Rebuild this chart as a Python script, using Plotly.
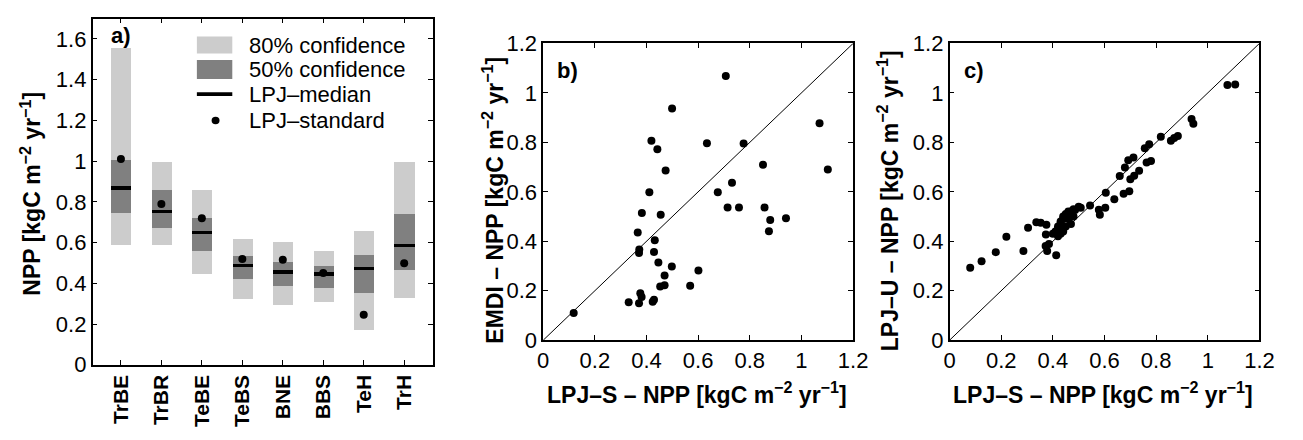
import plotly.graph_objects as go

# ---------------- data ----------------
categories = ["TrBE", "TrBR", "TeBE", "TeBS", "BNE", "BBS", "TeH", "TrH"]
ci80_low = [0.590, 0.590, 0.447, 0.326, 0.294, 0.311, 0.173, 0.331]
ci80_high = [1.558, 1.000, 0.858, 0.622, 0.603, 0.561, 0.657, 0.996]
ci50_low = [0.748, 0.673, 0.563, 0.422, 0.391, 0.380, 0.352, 0.468]
ci50_high = [1.008, 0.858, 0.724, 0.538, 0.506, 0.486, 0.543, 0.742]
lpj_median = [0.869, 0.755, 0.651, 0.489, 0.456, 0.447, 0.475, 0.587]
lpj_standard = [1.011, 0.789, 0.720, 0.519, 0.516, 0.450, 0.246, 0.498]

# panel b: LPJ-S vs EMDI
lpj_s_b = [0.118, 0.499, 0.419, 0.442, 0.634, 0.474, 0.411, 0.676, 0.382, 0.455,
           0.366, 0.432, 0.372, 0.371, 0.429, 0.446, 0.498, 0.601, 0.470, 0.453,
           0.470, 0.569, 0.376, 0.381, 0.331, 0.371, 0.424, 0.429, 0.707, 1.070,
           0.776, 0.851, 1.102, 0.731, 0.714, 0.758, 0.857, 0.879, 0.940, 0.874]
emdi_b = [0.110, 0.937, 0.806, 0.772, 0.796, 0.686, 0.598, 0.598, 0.514, 0.507,
          0.436, 0.404, 0.367, 0.353, 0.357, 0.314, 0.298, 0.282, 0.262, 0.217,
          0.222, 0.220, 0.190, 0.175, 0.154, 0.150, 0.156, 0.164, 1.068, 0.877,
          0.795, 0.709, 0.690, 0.637, 0.537, 0.537, 0.537, 0.486, 0.493, 0.441]

# panel c: LPJ-S vs LPJ-U
lpj_s_c = [0.080, 0.124, 0.179, 0.220, 0.286, 0.304, 0.336, 0.353, 0.375, 0.373,
           0.372, 0.385, 0.378, 0.413, 0.400, 0.410, 0.420, 0.420, 0.430, 0.430,
           0.440, 0.440, 0.450, 0.450, 0.460, 0.460, 0.470, 0.480, 0.470, 0.450,
           0.440, 0.430, 0.420, 0.480, 0.500, 0.544, 0.578, 0.582, 0.603, 1.076,
           1.106, 0.937, 0.944, 0.818, 0.857, 0.870, 0.884, 0.756, 0.773, 0.692,
           0.712, 0.679, 0.763, 0.780, 0.659, 0.700, 0.715, 0.734, 0.605, 0.674,
           0.696, 0.638, 0.508, 0.486]
lpj_u_c = [0.293, 0.319, 0.356, 0.418, 0.361, 0.455, 0.477, 0.475, 0.467, 0.427,
           0.381, 0.389, 0.361, 0.344, 0.430, 0.440, 0.450, 0.460, 0.470, 0.480,
           0.490, 0.500, 0.500, 0.510, 0.520, 0.490, 0.520, 0.530, 0.470, 0.460,
           0.440, 0.430, 0.420, 0.500, 0.540, 0.545, 0.528, 0.507, 0.536, 1.032,
           1.034, 0.894, 0.875, 0.823, 0.806, 0.818, 0.826, 0.776, 0.792, 0.728,
           0.739, 0.698, 0.719, 0.725, 0.664, 0.651, 0.665, 0.685, 0.596, 0.592,
           0.602, 0.570, 0.536, 0.526]

a_ticks = [0, 0.2, 0.4, 0.6, 0.8, 1.0, 1.2, 1.4, 1.6]
a_ticklabels = ["0", "0.2", "0.4", "0.6", "0.8", "1", "1.2", "1.4", "1.6"]
bc_ticks = [0, 0.2, 0.4, 0.6, 0.8, 1.0, 1.2]
bc_ticklabels = ["0", "0.2", "0.4", "0.6", "0.8", "1", "1.2"]
diag = [0, 1.2]

# ---------------- styling ----------------
W, H = 1303, 440
FONT = "Liberation Sans, Arial, Helvetica, sans-serif"
FS = 22
FS_TITLE = 23
LIGHT = "#cccccc"
DARK = "#808080"
UNIT = "[kgC m<sup>\u22122</sup> yr<sup>\u22121</sup>]"


def px(x):
    return x / W


def py(y):
    return 1 - y / H


xpos = list(range(1, len(categories) + 1))
fig = go.Figure()

# panel a
fig.add_trace(go.Bar(x=xpos, y=[h - l for h, l in zip(ci80_high, ci80_low)], base=ci80_low,
                     width=0.5, marker=dict(color=LIGHT, line=dict(width=0)),
                     xaxis="x", yaxis="y", showlegend=False, hoverinfo="skip"))
fig.add_trace(go.Bar(x=xpos, y=[h - l for h, l in zip(ci50_high, ci50_low)], base=ci50_low,
                     width=0.5, marker=dict(color=DARK, line=dict(width=0)),
                     xaxis="x", yaxis="y", showlegend=False, hoverinfo="skip"))
MED_T = 0.018
fig.add_trace(go.Bar(x=xpos, y=[MED_T] * len(lpj_median), base=[m - MED_T / 2 for m in lpj_median],
                     width=0.5, marker=dict(color="black", line=dict(width=0)),
                     xaxis="x", yaxis="y", showlegend=False, hoverinfo="skip"))
fig.add_trace(go.Scatter(x=xpos, y=lpj_standard, mode="markers",
                         marker=dict(color="black", size=8),
                         xaxis="x", yaxis="y", showlegend=False))

# panel b
fig.add_trace(go.Scatter(x=diag, y=diag, mode="lines", line=dict(color="black", width=1),
                         xaxis="x2", yaxis="y2", showlegend=False))
fig.add_trace(go.Scatter(x=lpj_s_b, y=emdi_b, mode="markers",
                         marker=dict(color="black", size=8),
                         xaxis="x2", yaxis="y2", showlegend=False))
# panel c
fig.add_trace(go.Scatter(x=diag, y=diag, mode="lines", line=dict(color="black", width=1),
                         xaxis="x3", yaxis="y3", showlegend=False))
fig.add_trace(go.Scatter(x=lpj_s_c, y=lpj_u_c, mode="markers",
                         marker=dict(color="black", size=8),
                         xaxis="x3", yaxis="y3", showlegend=False))

axis_common = dict(showline=True, linecolor="black", linewidth=1.5, mirror="ticks",
                   ticks="inside", ticklen=5, tickcolor="black", tickwidth=1,
                   showgrid=False, zeroline=False,
                   tickfont=dict(family=FONT, size=FS, color="black"))
axis_a_x = dict(axis_common)
axis_a_x["tickfont"] = dict(family=FONT, size=21, color="black")

fig.update_layout(
    width=W, height=H,
    margin=dict(l=0, r=0, t=0, b=0),
    paper_bgcolor="white", plot_bgcolor="white",
    barmode="overlay", bargap=0,
    font=dict(family=FONT, size=FS, color="black"),
    xaxis=dict(domain=[px(88), px(433.5)], range=[0.3, 8.7], tickvals=xpos,
               ticktext=["<b>%s</b>" % c for c in categories], tickangle=-90,
               anchor="y", **axis_a_x),
    yaxis=dict(domain=[py(374), py(7)], range=[0, 1.7], tickvals=a_ticks,
               ticktext=a_ticklabels, anchor="x", **axis_common),
    xaxis2=dict(domain=[px(546), px(861)], range=[0, 1.2], tickvals=bc_ticks,
                ticktext=bc_ticklabels, anchor="y2", **axis_common),
    yaxis2=dict(domain=[py(348), py(33.3)], range=[0, 1.2], tickvals=bc_ticks,
                ticktext=bc_ticklabels, anchor="x2", **axis_common),
    xaxis3=dict(domain=[px(959), px(1274)], range=[0, 1.2], tickvals=bc_ticks,
                ticktext=bc_ticklabels, anchor="y3", **axis_common),
    yaxis3=dict(domain=[py(348), py(33.3)], range=[0, 1.2], tickvals=bc_ticks,
                ticktext=bc_ticklabels, anchor="x3", **axis_common),
)

ann = []
shapes = []


def text(x, y, s, size=FS, bold=False, angle=0, xanchor="center", yanchor="middle"):
    ann.append(dict(x=px(x), y=py(y), xref="paper", yref="paper", text=("<b>%s</b>" % s) if bold else s,
                    showarrow=False, textangle=angle, xanchor=xanchor, yanchor=yanchor,
                    font=dict(family=FONT, size=size, color="black")))


# axis titles
text(25, 193, "NPP " + UNIT, size=FS_TITLE, bold=True, angle=-90)
text(495, 200, "EMDI \u2013 NPP " + UNIT, size=FS_TITLE, bold=True, angle=-90)
text(896, 200, "LPJ\u2013U \u2013 NPP " + UNIT, size=FS_TITLE, bold=True, angle=-90)
text(702, 404, "LPJ\u2013S \u2013 NPP " + UNIT, size=FS_TITLE, bold=True)
text(1115, 404, "LPJ\u2013S \u2013 NPP " + UNIT, size=FS_TITLE, bold=True)

# panel labels
text(105, 25, "a)", bold=True, xanchor="left")
text(558, 62, "b)", bold=True, xanchor="left")
text(972, 62, "c)", bold=True, xanchor="left")

# legend for panel a
shapes.append(dict(type="rect", xref="paper", yref="paper", x0=px(194), x1=px(230), y0=py(44), y1=py(26),
                   fillcolor=LIGHT, line=dict(width=0)))
shapes.append(dict(type="rect", xref="paper", yref="paper", x0=px(194), x1=px(230), y0=py(71), y1=py(51),
                   fillcolor=DARK, line=dict(width=0)))
shapes.append(dict(type="rect", xref="paper", yref="paper", x0=px(194), x1=px(230), y0=py(89), y1=py(85),
                   fillcolor="black", line=dict(width=0)))
shapes.append(dict(type="circle", xref="paper", yref="paper", x0=px(209), x1=px(217), y0=py(119), y1=py(111),
                   fillcolor="black", line=dict(width=0)))
text(245, 35, "80% confidence", xanchor="left")
text(245, 61, "50% confidence", xanchor="left")
text(245, 87, "LPJ\u2013median", xanchor="left")
text(245, 115, "LPJ\u2013standard", xanchor="left")

fig.update_layout(annotations=ann, shapes=shapes)
fig.write_html("out.html", config={"displayModeBar": False},
               post_script="document.body.style.margin='0';document.body.style.overflow='hidden';")
